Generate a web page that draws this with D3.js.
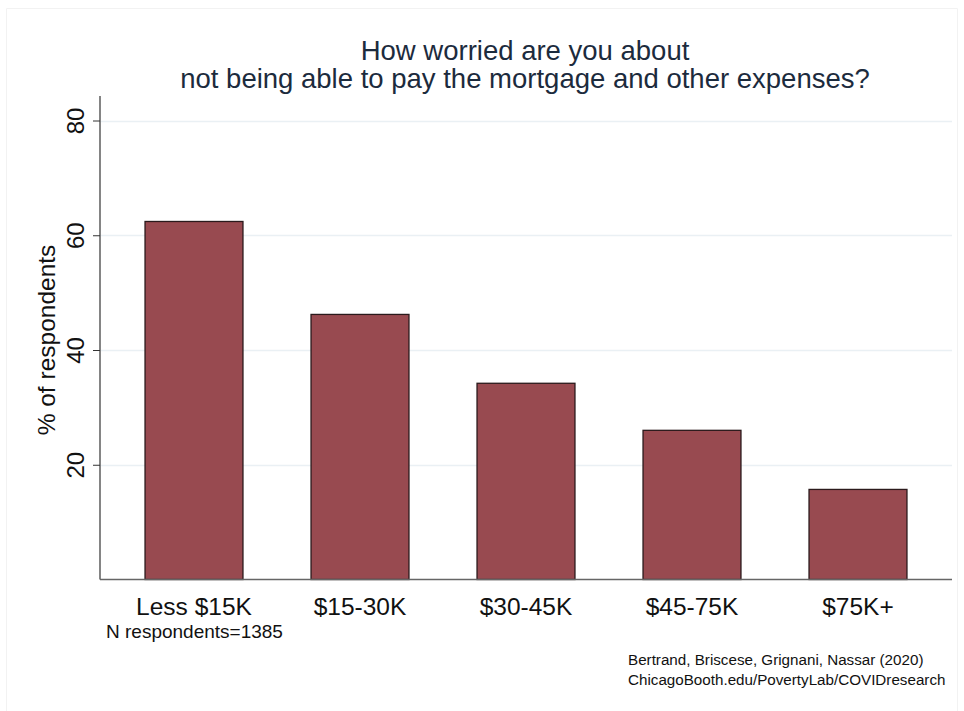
<!DOCTYPE html>
<html><head><meta charset="utf-8">
<script src="https://cdn.jsdelivr.net/npm/d3@7"></script>
<style>body{margin:0;background:#fff;}svg{display:block;font-family:"Liberation Sans",Arial,sans-serif;}</style>
</head><body>
<svg id="c" width="964" height="711"></svg>
<script>
const categories = ["Less $15K", "$15-30K", "$30-45K", "$45-75K", "$75K+"];
const values = [62.4, 46.2, 34.2, 26.0, 15.7];
const yTicks = [20, 40, 60, 80];
const titleLines = ["How worried are you about", "not being able to pay the mortgage and other expenses?"];
const yTitle = "% of respondents";
const note = "N respondents=1385";
const credits = ["Bertrand, Briscese, Grignani, Nassar (2020)", "ChicagoBooth.edu/PovertyLab/COVIDresearch"];

const svg = d3.select("#c");
const left = 100, right = 952, bottom = 579.5;
const y = d3.scaleLinear().domain([0, 80]).range([bottom, 120.5]);
const x = d3.scaleBand().domain(categories).range([111, 941]).paddingInner(0.41).paddingOuter(0.205);

// faint frame
svg.append("path").attr("d","M6.5,711 V8.5 H957.5 V711").attr("fill","none").attr("stroke","#f2f2f2");

// gridlines
svg.append("g").selectAll("line").data(yTicks).join("line")
  .attr("x1", left).attr("x2", right)
  .attr("y1", d => Math.round(y(d)) + 0.5).attr("y2", d => Math.round(y(d)) + 0.5)
  .attr("stroke", "#eaf0f4").attr("stroke-width", 1.5);

// bars
svg.append("g").selectAll("rect").data(values).join("rect")
  .attr("x", (d, i) => x(categories[i]))
  .attr("width", x.bandwidth())
  .attr("y", d => y(d))
  .attr("height", d => bottom - y(d))
  .attr("fill", "#984a50").attr("stroke", "#2b1a1c").attr("stroke-width", 1.3);

// y axis
const ya = svg.append("g").attr("transform", `translate(${left},0)`)
  .call(d3.axisLeft(y).tickValues(yTicks).tickSize(7).tickPadding(8));
ya.select(".domain").attr("d", `M0,96V${bottom}`).attr("stroke", "#666").attr("stroke-width", 1.6);
ya.selectAll(".tick line").attr("stroke", "#333");
ya.selectAll(".tick text").attr("font-size", 24).attr("fill", "#111")
  .attr("transform", "rotate(-90)").attr("x", 0).attr("y", -16).attr("dy", 0)
  .attr("text-anchor", "middle");

// x axis
const xa = svg.append("g").attr("transform", `translate(0,${bottom})`)
  .call(d3.axisBottom(x).tickSize(0));
xa.select(".domain").attr("d", `M${left},0H${right}`).attr("stroke", "#666").attr("stroke-width", 1.6);
xa.selectAll(".tick text").attr("font-size", 24.5).attr("fill", "#111").attr("y", 35).attr("dy", 0);

// titles
svg.append("g").selectAll("text").data(titleLines).join("text")
  .attr("x", 525).attr("y", (d, i) => 60 + i * 28)
  .attr("text-anchor", "middle").attr("font-size", 27.5).attr("fill", "#1c2b3d").text(d => d);

svg.append("text").attr("transform", "translate(55,340) rotate(-90)")
  .attr("text-anchor", "middle").attr("font-size", 24.5).attr("fill", "#111").text(yTitle);

svg.append("text").attr("x", 106).attr("y", 638).attr("font-size", 19).attr("fill", "#111").text(note);

svg.append("g").selectAll("text").data(credits).join("text")
  .attr("x", 628).attr("y", (d, i) => 665 + i * 20)
  .attr("font-size", 15.2).attr("fill", "#111").text(d => d);
</script>
</body></html>
